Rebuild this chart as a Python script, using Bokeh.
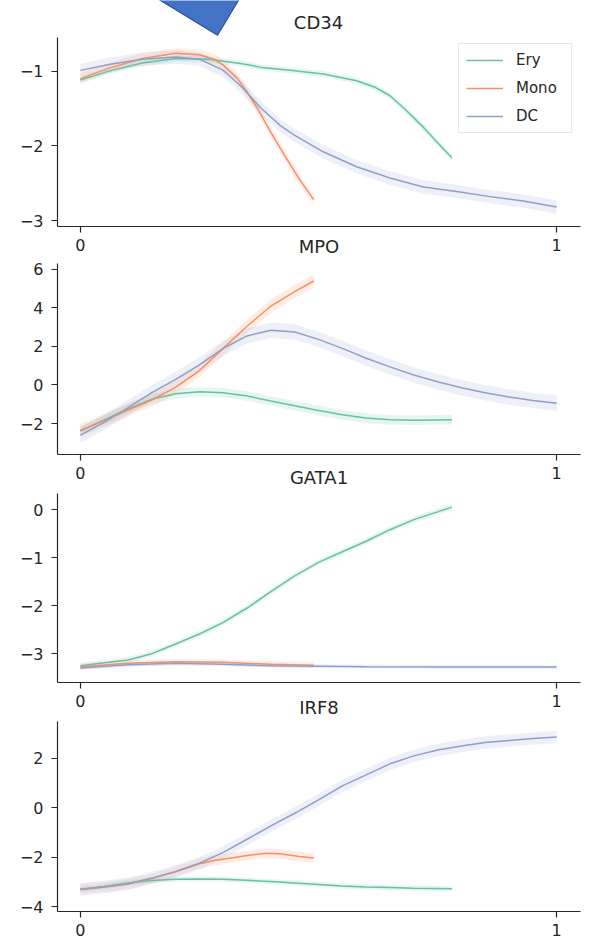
import numpy as np
from bokeh.plotting import figure
from bokeh.layouts import column
from bokeh.models import (Range1d, FixedTicker, CustomJSTickFormatter, Label,
                          Legend, LegendItem)
from bokeh.embed import file_html
from bokeh.resources import INLINE

LINEAGES = ["Ery", "Mono", "DC"]
COLORS = ["#66c2a5", "#fc8d62", "#8da0cb"]
GENES = ["CD34", "MPO", "GATA1", "IRF8"]
X_TICKS = [0, 1]

# ---------------- CD34 ----------------
CD34_ERY_X = [0.0, 0.06, 0.13, 0.2, 0.27, 0.34, 0.38, 0.44, 0.51, 0.58, 0.62, 0.65, 0.68, 0.72, 0.75, 0.78]
CD34_ERY_Y = [-1.12, -1.0, -0.89, -0.83, -0.84, -0.9, -0.95, -0.99, -1.04, -1.13, -1.22, -1.33, -1.5, -1.75, -1.96, -2.16]
CD34_MONO_X = [0.0, 0.06, 0.13, 0.2, 0.25, 0.28, 0.3, 0.33, 0.35, 0.37, 0.4, 0.43, 0.46, 0.49]
CD34_MONO_Y = [-1.1, -0.96, -0.83, -0.76, -0.78, -0.84, -0.92, -1.1, -1.28, -1.48, -1.82, -2.14, -2.45, -2.72]
CD34_DC_X = [0.0, 0.06, 0.13, 0.2, 0.25, 0.3, 0.34, 0.38, 0.42, 0.45, 0.51, 0.58, 0.65, 0.72, 0.79, 0.86, 0.93, 1.0]
CD34_DC_Y = [-0.99, -0.91, -0.84, -0.81, -0.84, -0.99, -1.22, -1.5, -1.73, -1.86, -2.08, -2.28, -2.43, -2.55, -2.61, -2.68, -2.74, -2.82]
CD34_BAND = [0.04, 0.07, 0.09]
CD34_YTICKS = [-3, -2, -1]

# ---------------- MPO ----------------
MPO_ERY_X = [0.0, 0.05, 0.1, 0.15, 0.2, 0.25, 0.3, 0.35, 0.4, 0.45, 0.5, 0.55, 0.6, 0.65, 0.7, 0.78]
MPO_ERY_Y = [-2.39, -1.82, -1.24, -0.74, -0.45, -0.35, -0.4, -0.57, -0.83, -1.08, -1.32, -1.55, -1.72, -1.81, -1.83, -1.8]
MPO_MONO_X = [0.0, 0.05, 0.1, 0.15, 0.2, 0.25, 0.3, 0.35, 0.4, 0.45, 0.49]
MPO_MONO_Y = [-2.35, -1.85, -1.3, -0.78, -0.12, 0.75, 1.9, 3.05, 4.1, 4.85, 5.4]
MPO_DC_X = [0.0, 0.05, 0.1, 0.15, 0.2, 0.25, 0.3, 0.35, 0.4, 0.45, 0.5, 0.55, 0.6, 0.65, 0.7, 0.75, 0.8, 0.85, 0.9, 0.95, 1.0]
MPO_DC_Y = [-2.6, -1.94, -1.18, -0.4, 0.29, 1.04, 1.9, 2.55, 2.84, 2.75, 2.37, 1.9, 1.39, 0.94, 0.52, 0.17, -0.14, -0.4, -0.62, -0.8, -0.95]
MPO_BAND = [0.25, 0.35, 0.4]
MPO_YTICKS = [-2, 0, 2, 4, 6]

# ---------------- GATA1 ----------------
GATA1_ERY_X = [0.0, 0.05, 0.1, 0.15, 0.2, 0.25, 0.3, 0.35, 0.4, 0.45, 0.5, 0.55, 0.6, 0.65, 0.7, 0.75, 0.78]
GATA1_ERY_Y = [-3.25, -3.19, -3.13, -3.0, -2.8, -2.59, -2.35, -2.05, -1.71, -1.38, -1.1, -0.88, -0.66, -0.42, -0.21, -0.05, 0.05]
GATA1_MONO_X = [0.0, 0.1, 0.2, 0.3, 0.4, 0.49]
GATA1_MONO_Y = [-3.27, -3.2, -3.17, -3.18, -3.22, -3.24]
GATA1_DC_X = [0.0, 0.1, 0.2, 0.3, 0.4, 0.5, 0.6, 0.8, 1.0]
GATA1_DC_Y = [-3.3, -3.23, -3.2, -3.22, -3.25, -3.26, -3.27, -3.28, -3.28]
GATA1_BAND = [0.06, 0.06, 0.04]
GATA1_YTICKS = [-3, -2, -1, 0]

# ---------------- IRF8 ----------------
IRF8_ERY_X = [0.0, 0.05, 0.1, 0.15, 0.2, 0.25, 0.3, 0.35, 0.4, 0.45, 0.5, 0.55, 0.6, 0.65, 0.7, 0.78]
IRF8_ERY_Y = [-3.3, -3.18, -3.04, -2.94, -2.89, -2.88, -2.89, -2.93, -2.98, -3.04, -3.1, -3.16, -3.2, -3.22, -3.25, -3.27]
IRF8_MONO_X = [0.0, 0.05, 0.1, 0.15, 0.2, 0.25, 0.28, 0.32, 0.35, 0.39, 0.42, 0.46, 0.49]
IRF8_MONO_Y = [-3.28, -3.2, -3.08, -2.86, -2.58, -2.26, -2.13, -2.02, -1.93, -1.84, -1.86, -1.97, -2.03]
IRF8_DC_X = [0.0, 0.05, 0.1, 0.15, 0.2, 0.25, 0.3, 0.35, 0.4, 0.45, 0.5, 0.55, 0.6, 0.65, 0.7, 0.75, 0.8, 0.85, 0.9, 0.95, 1.0]
IRF8_DC_Y = [-3.3, -3.2, -3.07, -2.84, -2.57, -2.24, -1.8, -1.27, -0.73, -0.22, 0.32, 0.89, 1.33, 1.78, 2.1, 2.34, 2.5, 2.64, 2.72, 2.8, 2.86]
IRF8_BAND = [0.1, 0.2, 0.25]
IRF8_YTICKS = [-4, -2, 0, 2]

# decorative blue shape cut off at the top edge of the image (CD34 data units)
OVERLAY_X = [0.0996, 0.357, 0.288]
OVERLAY_Y = [0.213, 0.213, -0.52]

SERIES = {
    "CD34": [(CD34_ERY_X, CD34_ERY_Y), (CD34_MONO_X, CD34_MONO_Y), (CD34_DC_X, CD34_DC_Y)],
    "MPO": [(MPO_ERY_X, MPO_ERY_Y), (MPO_MONO_X, MPO_MONO_Y), (MPO_DC_X, MPO_DC_Y)],
    "GATA1": [(GATA1_ERY_X, GATA1_ERY_Y), (GATA1_MONO_X, GATA1_MONO_Y), (GATA1_DC_X, GATA1_DC_Y)],
    "IRF8": [(IRF8_ERY_X, IRF8_ERY_Y), (IRF8_MONO_X, IRF8_MONO_Y), (IRF8_DC_X, IRF8_DC_Y)],
}
BANDS = {"CD34": CD34_BAND, "MPO": MPO_BAND, "GATA1": GATA1_BAND, "IRF8": IRF8_BAND}
YTICKS = {"CD34": CD34_YTICKS, "MPO": MPO_YTICKS, "GATA1": GATA1_YTICKS, "IRF8": IRF8_YTICKS}

# axis limits per panel (visible spine extent)
YLIMS = {"CD34": (-3.08, -0.55), "MPO": (-3.61, 6.31), "GATA1": (-3.6, 0.333), "IRF8": (-4.19, 3.49)}
XLIM = (-0.048, 1.05)

# layout (pixels): top border, frame height, bottom border
LAYOUT = {"CD34": (0, 226, 34), "MPO": (3, 191, 37), "GATA1": (2, 189, 39), "IRF8": (0, 190, 31)}
CD34_EXTRA_TOP = 37  # frame of first panel extends above its spine (title + overlay)
TITLE_STANDOFF = {"CD34": -18, "MPO": -15, "GATA1": -13}

FONT = "DejaVu Sans"
TXT = "#262626"

minus_fmt = "return String(tick).replace('-', '\u2212');"

figs = []
for gi, gene in enumerate(GENES):
    top, fh, bot = LAYOUT[gene]
    y0, y1 = YLIMS[gene]
    if gi == 0:
        spine_px = fh - CD34_EXTRA_TOP
        y_end = y1 + (y1 - y0) * CD34_EXTRA_TOP / spine_px
    else:
        y_end = y1
    p = figure(width=583, height=top + fh + bot,
               x_range=Range1d(*XLIM), y_range=Range1d(y0, y_end),
               output_backend="svg", toolbar_location=None,
               min_border_left=57, min_border_right=3,
               min_border_top=top, min_border_bottom=bot)
    p.outline_line_color = None
    p.xgrid.visible = False
    p.ygrid.visible = False
    p.xaxis.ticker = FixedTicker(ticks=X_TICKS)
    p.yaxis.ticker = FixedTicker(ticks=YTICKS[gene])
    p.yaxis.bounds = (y0, y1)
    for ax in (p.xaxis[0], p.yaxis[0]):
        ax.axis_line_color = TXT
        ax.axis_line_width = 1.2
        ax.major_tick_line_color = TXT
        ax.major_tick_line_width = 1.2
        ax.major_tick_in = 0
        ax.major_tick_out = 6
        ax.minor_tick_line_color = None
        ax.major_label_text_font = FONT
        ax.major_label_text_font_size = "16px"
        ax.major_label_text_color = TXT
        ax.formatter = CustomJSTickFormatter(code=minus_fmt)
    p.xaxis.major_label_standoff = 6
    p.yaxis.major_label_standoff = 8

    renderers = []
    for (xs, ys), h, col in zip(SERIES[gene], BANDS[gene], COLORS):
        xa = np.array(xs)
        ya = np.array(ys)
        p.varea(x=xa, y1=ya - h, y2=ya + h, fill_color=col, fill_alpha=0.16)
    for (xs, ys), col in zip(SERIES[gene], COLORS):
        r = p.line(xs, ys, line_color=col, line_width=1.5)
        renderers.append(r)

    if gi == 0:
        p.add_layout(Label(x=0.5, y=fh - 21.5, x_units="data", y_units="screen",
                           text=gene, text_align="center", text_baseline="middle",
                           text_font=FONT, text_font_size="18px", text_color=TXT))
        p.patch(OVERLAY_X, OVERLAY_Y, fill_color="#4472c4", fill_alpha=1.0,
                line_color="#2f528f", line_width=1.2)
        items = [LegendItem(label=lab, renderers=[r]) for lab, r in zip(LINEAGES, renderers)]
        leg = Legend(items=items, location=(401, 93), margin=0, padding=7, spacing=10,
                     glyph_width=37, glyph_height=18, label_height=18, label_width=48,
                     label_standoff=13,
                     label_text_font=FONT, label_text_font_size="15px", label_text_color=TXT,
                     border_line_color="#d0d0d0", border_line_width=1,
                     background_fill_color="white", background_fill_alpha=0.85)
        p.add_layout(leg)
    if gi < len(GENES) - 1:
        # the next panel's title sits just under this panel's x axis
        p.xaxis.axis_label = GENES[gi + 1]
        p.xaxis.axis_label_text_font = FONT
        p.xaxis.axis_label_text_font_size = "18px"
        p.xaxis.axis_label_text_font_style = "normal"
        p.xaxis.axis_label_text_color = TXT
        p.xaxis.axis_label_standoff = TITLE_STANDOFF[gene]
    figs.append(p)

layout = column(*figs, spacing=0)
open("out.html", "w").write(file_html(layout, INLINE))
